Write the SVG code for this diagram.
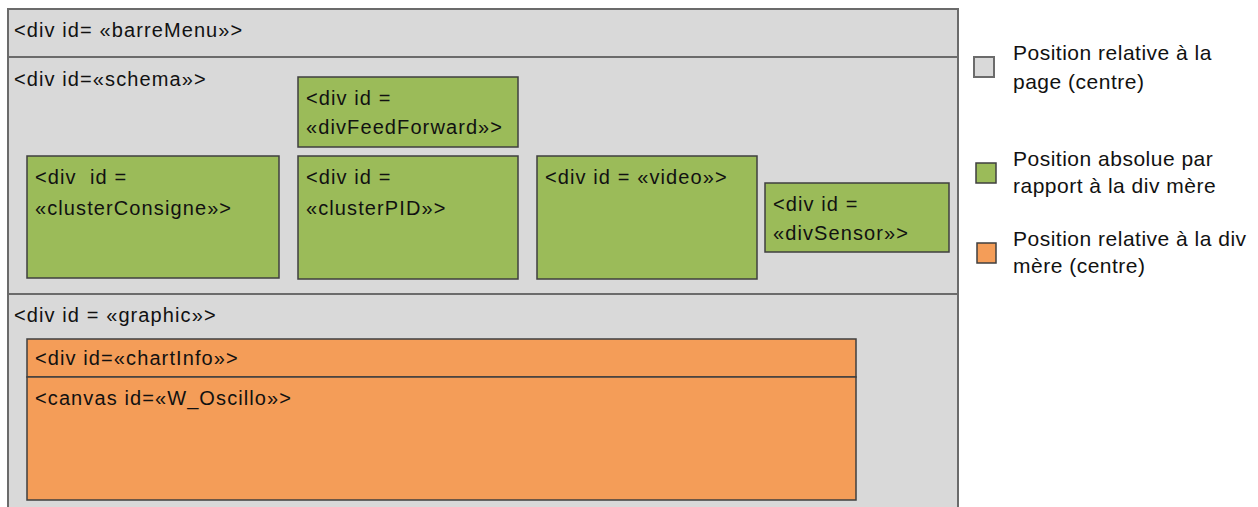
<svg xmlns="http://www.w3.org/2000/svg" width="1258" height="507" viewBox="0 0 1258 507">
<style>
text{font-family:"Liberation Sans",Arial,sans-serif;font-size:20px;letter-spacing:1.1px;fill:#111}
.lg{font-size:21px;letter-spacing:0.5px}
.gray{fill:#d9d9d9;stroke:#6b6b6b;stroke-width:2}
.green{fill:#9bbb59;stroke:#3f3f3f;stroke-width:1.5}
.orange{fill:#f49d58;stroke:#3f3f3f;stroke-width:1.5}
</style>
<rect width="1258" height="507" fill="#ffffff"/>
<g id="barreMenu">
<rect class="gray" x="8" y="9" width="950" height="48"/>
<text x="14" y="37">&lt;div id= «barreMenu»&gt;</text>
</g>
<g id="schema">
<rect class="gray" x="8" y="57" width="950" height="237"/>
<text x="14" y="86">&lt;div id=«schema»&gt;</text>
</g>
<g id="graphic">
<rect class="gray" x="8" y="294" width="950" height="230"/>
<text x="14" y="322">&lt;div id = «graphic»&gt;</text>
</g>
<g id="divFeedForward">
<rect class="green" x="298" y="77" width="220" height="70"/>
<text x="306" y="105">&lt;div id =</text>
<text x="306" y="134">«divFeedForward»&gt;</text>
</g>
<g id="clusterConsigne">
<rect class="green" x="27" y="156" width="252" height="122"/>
<text x="35" y="184" xml:space="preserve">&lt;div  id =</text>
<text x="35" y="215">«clusterConsigne»&gt;</text>
</g>
<g id="clusterPID">
<rect class="green" x="298" y="156" width="220" height="123"/>
<text x="306" y="184">&lt;div id =</text>
<text x="306" y="215">«clusterPID»&gt;</text>
</g>
<g id="video">
<rect class="green" x="537" y="156" width="220" height="123"/>
<text x="545" y="184">&lt;div id = «video»&gt;</text>
</g>
<g id="divSensor">
<rect class="green" x="765" y="183" width="184" height="69"/>
<text x="773" y="211">&lt;div id =</text>
<text x="773" y="240">«divSensor»&gt;</text>
</g>
<g id="chartInfo">
<rect class="orange" x="27" y="339" width="829" height="38"/>
<text x="35" y="365">&lt;div id=«chartInfo»&gt;</text>
</g>
<g id="W_Oscillo">
<rect class="orange" x="27" y="377" width="829" height="123"/>
<text x="35" y="405">&lt;canvas id=«W_Oscillo»&gt;</text>
</g>
<g id="legend">
<g id="legend-gray">
<rect x="974" y="57" width="20" height="20" fill="#d9d9d9" stroke="#6b6b6b" stroke-width="2"/>
<text class="lg" x="1013" y="60">Position relative à la</text>
<text class="lg" x="1013" y="89">page (centre)</text>
</g>
<g id="legend-green">
<rect x="976" y="163" width="20" height="20" fill="#9bbb59" stroke="#3f3f3f" stroke-width="1.5"/>
<text class="lg" x="1013" y="166">Position absolue par</text>
<text class="lg" x="1013" y="193">rapport à la div mère</text>
</g>
<g id="legend-orange">
<rect x="977" y="243" width="19" height="20" fill="#f49d58" stroke="#3f3f3f" stroke-width="1.5"/>
<text class="lg" x="1013" y="246">Position relative à la div</text>
<text class="lg" x="1013" y="273">mère (centre)</text>
</g>
</g>
<g id="connectors"/>
</svg>
